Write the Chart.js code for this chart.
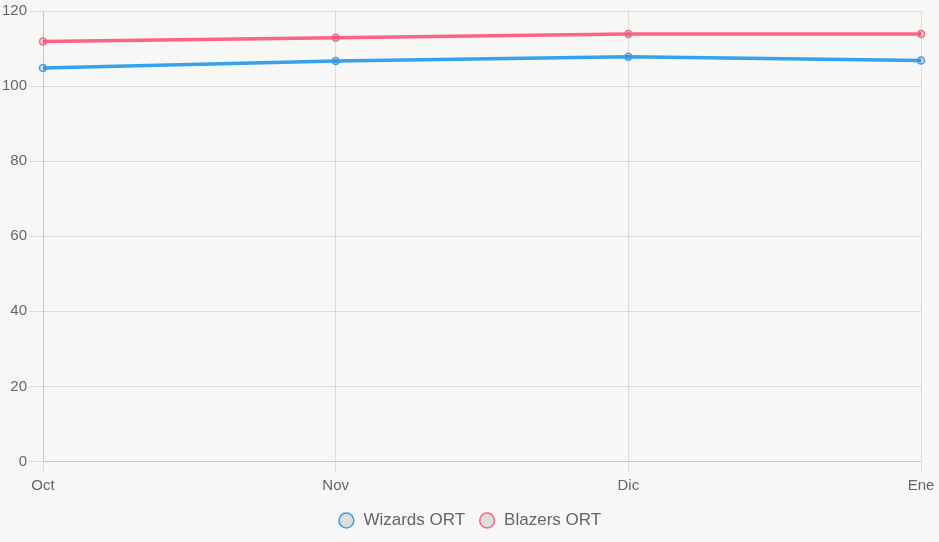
<!DOCTYPE html>
<html>
<head>
<meta charset="utf-8">
<script src="https://cdn.jsdelivr.net/npm/chart.js@4.4.0/dist/chart.umd.min.js"></script>
<style>
  html, body { margin: 0; padding: 0; background: #f7f7f5; }
  #wrap { width: 939px; height: 542px; position: relative; }
</style>
</head>
<body>
<div id="wrap"><canvas id="chart1"></canvas></div>
<script>
var months = ['Oct', 'Nov', 'Dic', 'Ene'];
var wizardsOrt = [104.8, 106.7, 107.8, 106.8];
var blazersOrt = [111.9, 112.9, 113.9, 113.9];

Chart.defaults.font.family = "'Liberation Sans', Arial, sans-serif";
Chart.defaults.color = '#666';

// center the legend on the whole canvas, not on the padded box
var centerLegend = {
  id: 'centerLegend',
  afterLayout: function(chart) {
    var lg = chart.legend;
    var shift = (chart.width - (lg.left + lg.right)) / 2;
    lg.left += shift;
    lg.right += shift;
  }
};

var ctx = document.getElementById('chart1').getContext('2d');
var myChart = new Chart(ctx, {
  type: 'line',
  data: {
    labels: months,
    datasets: [{
      label: 'Wizards ORT',
      data: wizardsOrt,
      borderColor: 'rgb(54, 162, 235)',
      backgroundColor: 'rgba(0, 0, 0, 0.1)',
      borderWidth: 3.5,
      pointRadius: 3.5,
      pointBorderWidth: 1.5,
      tension: 0
    },
    {
      label: 'Blazers ORT',
      data: blazersOrt,
      borderColor: 'rgb(255, 99, 132)',
      backgroundColor: 'rgba(0, 0, 0, 0.1)',
      borderWidth: 3.5,
      pointRadius: 3.5,
      pointBorderWidth: 1.5,
      tension: 0
    }]
  },
  options: {
    responsive: true,
    maintainAspectRatio: false,
    animation: false,
    layout: { padding: { right: 18, top: 4, bottom: 3 } },
    plugins: {
      legend: {
        position: 'bottom',
        labels: {
          usePointStyle: true,
          boxWidth: 19,
          boxHeight: 10.5,
          font: { size: 17 },
          padding: 13.5
        }
      }
    },
    scales: {
      x: {
        ticks: { font: { size: 15 }, padding: 4 },
        grid: { color: 'rgba(0, 0, 0, 0.1)', tickLength: 11 }
      },
      y: {
        min: 0,
        max: 120,
        ticks: { stepSize: 20, font: { size: 15 }, padding: 2 },
        grid: { color: 'rgba(0, 0, 0, 0.1)', tickLength: 14 }
      }
    }
  },
  plugins: [centerLegend]
});
</script>
</body>
</html>
